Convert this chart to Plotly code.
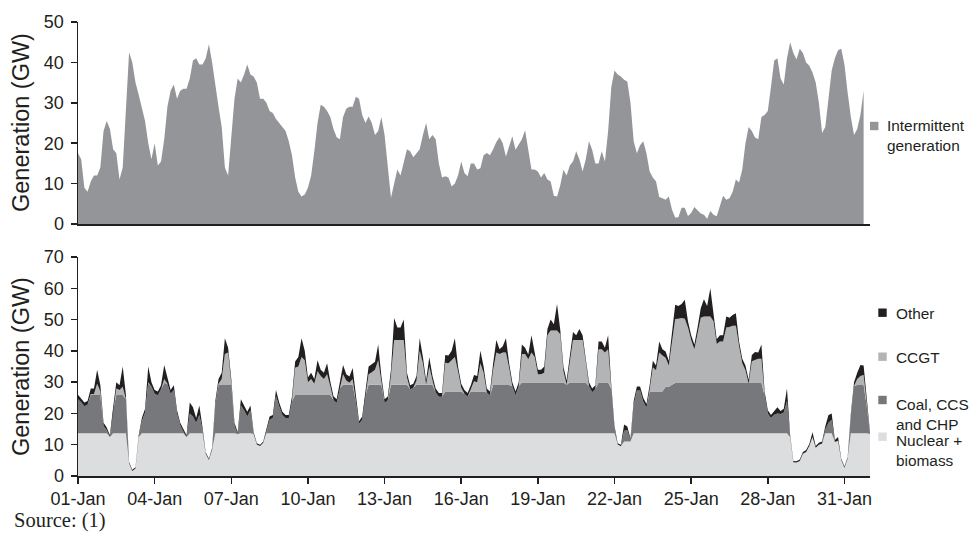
import pandas as pd
import plotly.graph_objects as go

# ---------------- data (3-hourly, January) ----------------
intermittent = [
    17.5, 16, 9, 8, 10.5, 12, 12, 14,
    23, 25.5, 23.5, 18.5, 17.5, 11, 14, 28,
    42.5, 40, 35, 32, 29, 25.5, 20, 16,
    20, 14.5, 15.5, 21, 29, 33, 34.5, 31,
    33, 33.5, 33.5, 36, 40.5, 41, 39.5, 39.5,
    41, 44.5, 40, 34, 29, 24, 14, 12,
    22, 31, 36, 35, 37, 39.5, 37, 36.5,
    35, 31, 31, 30, 28, 27.5, 26, 25,
    24, 23, 20.5, 17, 11.5, 8, 6.8, 7.3,
    9, 12, 18, 25, 29.5, 29, 28, 26.5,
    23.5, 21.5, 21, 26.5, 28.5, 29, 29, 31.5,
    31, 27, 25, 26.6, 25, 22, 23, 26.5,
    22, 14.5, 6.5, 10, 13.5, 12, 15, 18.5,
    18, 16.5, 17.5, 18.5, 22, 25, 21, 22,
    21, 15, 11.5, 11.8, 11.5, 9.3, 10, 12,
    15.5, 12.6, 11.8, 15, 15, 13.5, 13.8, 17,
    17.6, 17, 18.5, 20.3, 21.5, 20, 16.7, 19.5,
    21.7, 18.4, 19.8, 21, 23.2, 18, 13.5, 13.5,
    13, 11.5, 12.6, 11, 10.5, 7, 6.8, 9.5,
    13.4, 12, 14.5, 15.5, 18, 16, 13, 16,
    20.5, 18.4, 15, 15, 18, 15.5, 23, 34,
    38, 37, 36.5, 35.7, 35.3, 30, 20.5, 17.5,
    19.5, 20.5, 17.5, 13, 11.5, 10.5, 6.7, 6.4,
    6, 6.8, 3.5, 1.6, 1.7, 4, 4, 2,
    2.7, 4.2, 3.5, 2.6, 2.3, 1.3, 3.2, 2.3,
    1.9, 4.5, 7, 6, 6.4, 8, 11, 10.3,
    13.5, 20, 24, 23, 21.4, 21, 26.5, 27,
    28, 34, 40.5, 41, 36, 34.5, 41, 45,
    42.3, 40.7, 43.4, 42.3, 40, 39.2, 37.5, 35,
    30, 22.5, 24, 31, 38, 41, 43, 43.4,
    39.5, 32.5, 26.5, 22, 23.5, 27, 33,
]

nuclear = [
    13.7, 13.7, 13.7, 13.7, 13.7, 13.7, 13.7, 13.7,
    13.7, 13.7, 12.5, 13.7, 13.7, 13.7, 13.7, 13.7,
    4.1, 1.6, 2.4, 12.4, 13.7, 13.7, 13.7, 13.7,
    13.7, 13.7, 13.7, 13.7, 13.7, 13.7, 13.7, 13.7,
    13.7, 13.7, 12.5, 13.7, 13.7, 13.7, 13.7, 13.7,
    7.1, 5.1, 8.5, 13.7, 13.7, 13.7, 13.7, 13.7,
    13.7, 13.7, 13.4, 13.7, 13.7, 13.7, 13.7, 13.4,
    10.1, 9.6, 10.6, 13.7, 13.7, 13.7, 13.7, 13.7,
    13.7, 13.7, 13.7, 13.7, 13.7, 13.7, 13.7, 13.7,
    13.7, 13.7, 13.7, 13.7, 13.7, 13.7, 13.7, 13.7,
    13.7, 13.7, 13.7, 13.7, 13.7, 13.7, 13.7, 13.7,
    13.7, 13.7, 13.7, 13.7, 13.7, 13.7, 13.7, 13.7,
    13.7, 13.7, 13.7, 13.7, 13.7, 13.7, 13.7, 13.7,
    13.7, 13.7, 13.7, 13.7, 13.7, 13.7, 13.7, 13.7,
    13.7, 13.7, 13.7, 13.7, 13.7, 13.7, 13.7, 13.7,
    13.7, 13.7, 13.7, 13.7, 13.7, 13.7, 13.7, 13.7,
    13.7, 13.7, 13.7, 13.7, 13.7, 13.7, 13.7, 13.7,
    13.7, 13.7, 13.7, 13.7, 13.7, 13.7, 13.7, 13.7,
    13.7, 13.7, 13.7, 13.7, 13.7, 13.7, 13.7, 13.7,
    13.7, 13.7, 13.7, 13.7, 13.7, 13.7, 13.7, 13.7,
    13.7, 13.7, 13.7, 13.7, 13.7, 13.7, 13.7, 13.7,
    13.7, 10.1, 9.5, 11.0, 11.0, 11.0, 13.7, 13.7,
    13.7, 13.7, 13.7, 13.7, 13.7, 13.7, 13.7, 13.7,
    13.7, 13.7, 13.7, 13.7, 13.7, 13.7, 13.7, 13.7,
    13.7, 13.7, 13.7, 13.7, 13.7, 13.7, 13.7, 13.7,
    13.7, 13.7, 13.7, 13.7, 13.7, 13.7, 13.7, 13.7,
    13.7, 13.7, 13.7, 13.7, 13.7, 13.7, 13.7, 13.7,
    13.7, 13.7, 13.7, 13.7, 13.7, 13.7, 13.7, 12.4,
    4.4, 4.3, 4.8, 7.1, 7.7, 9.6, 12.5, 9.0,
    10.0, 10.4, 13.7, 13.7, 13.7, 10.9, 11.3, 5.1,
    2.6, 5.6, 13.7, 13.7, 13.7, 13.7, 13.7, 13.7,
    13.4,
]

coal_ccs_chp = [
    10.8, 9.9, 8.6, 9.1, 12.2, 12.2, 12.2, 12.2,
    2.3, 1.0, 0, 7.3, 12.2, 12.2, 12.2, 10.8,
    0, 0, 0, 0, 3.8, 6.6, 16.0, 14.8,
    12.6, 12.1, 14.0, 16.0, 15.8, 12.6, 13.8, 6.3,
    2.5, 0.5, 0, 6.3, 5.3, 3.3, 5.8, 1.0,
    0, 0, 0, 9.1, 15.4, 15.4, 15.4, 15.4,
    15.4, 2.3, 0, 8.8, 7.3, 5.3, 7.3, 0,
    0, 0, 0, 0.5, 4.3, 4.8, 11.8, 8.6,
    5.8, 4.8, 4.8, 10.2, 12.2, 12.2, 12.2, 12.2,
    12.2, 12.2, 12.2, 12.2, 12.2, 12.2, 12.2, 12.2,
    10.6, 9.6, 14.3, 15.5, 15.5, 15.5, 15.5, 10.1,
    3.0, 4.3, 12.0, 15.5, 15.5, 15.5, 15.5, 15.5,
    9.6, 10.5, 15.5, 15.5, 15.5, 15.5, 15.5, 15.5,
    14.0, 14.5, 15.5, 15.5, 15.5, 15.5, 15.5, 15.5,
    13.0, 11.6, 11.6, 13.3, 13.3, 13.3, 13.3, 13.3,
    13.3, 12.6, 11.6, 13.3, 13.3, 13.3, 13.3, 13.3,
    13.0, 12.1, 15.4, 15.4, 15.4, 15.4, 15.4, 15.4,
    15.0, 12.1, 15.0, 16.2, 16.2, 16.2, 16.2, 16.2,
    16.2, 16.2, 16.2, 16.2, 16.2, 16.2, 16.2, 16.2,
    16.2, 15.5, 16.2, 16.2, 16.2, 16.2, 16.2, 16.2,
    15.0, 13.1, 14.1, 16.2, 16.2, 16.2, 16.2, 14.1,
    1.5, 0, 0, 3.5, 3.6, 0.4, 9.1, 13.6,
    13.6, 10.1, 8.1, 13.3, 13.3, 13.3, 13.3, 13.3,
    14.8, 14.8, 15.5, 16.0, 16.0, 16.0, 16.0, 16.0,
    16.0, 16.0, 16.0, 16.0, 16.0, 16.0, 16.0, 16.0,
    16.0, 16.0, 16.0, 16.0, 16.0, 16.0, 16.0, 16.0,
    16.0, 16.0, 15.8, 16.0, 16.0, 16.0, 16.0, 12.1,
    6.3, 4.8, 5.9, 6.3, 6.1, 6.6, 10.3, 0,
    0, 0, 0, 0, 0, 0, 0, 0,
    0, 0, 1.2, 3.3, 4.3, 0, 0, 0,
    0, 0, 5.3, 15.1, 15.4, 15.4, 15.4, 8.6,
    0,
]

ccgt = [
    0, 0, 0, 0, 0.3, 0.3, 3.6, 1.1,
    0, 0, 0, 0, 2.1, 1.6, 2.6, 0,
    0, 0, 0, 0, 0, 0, 0.3, 0,
    0, 0, 0, 1.3, 0, 0, 0, 0,
    0, 0, 0, 0, 0, 0, 0, 0,
    0, 0, 0, 0, 0.4, 1.9, 9.9, 10.4,
    0.4, 0, 0, 0, 0, 0, 0, 0,
    0, 0, 0, 0, 0, 0, 0, 0,
    0, 0, 0, 0, 8.7, 9.1, 12.1, 11.1,
    4.1, 5.1, 3.6, 7.6, 6.1, 5.1, 6.6, 2.8,
    0, 0, 0, 3.3, 1.3, 0.6, 1.8, 0,
    0, 0, 0, 3.3, 4.0, 4.8, 7.8, 1.3,
    0, 0, 2.8, 14.3, 14.3, 14.3, 14.3, 2.3,
    0, 0, 1.3, 10.8, 6.8, 0, 5.8, 1.3,
    0, 0, 0, 9.2, 9.0, 10.0, 11.0, 6.5,
    1.2, 0, 0, 0.7, 3.3, 3.0, 9.0, 6.0,
    0, 0, 4.9, 10.4, 9.9, 10.4, 10.4, 5.4,
    0, 0, 0, 9.1, 9.1, 7.4, 9.6, 8.1,
    2.6, 2.6, 3.1, 15.1, 16.6, 16.6, 16.6, 15.4,
    3.6, 0, 6.1, 13.6, 13.6, 13.6, 13.6, 6.6,
    0, 0, 0, 10.6, 10.6, 9.6, 10.6, 0,
    0, 0, 0, 0, 0, 0, 0, 0,
    0, 0, 0, 0.5, 7.8, 6.8, 12.5, 11.5,
    9.3, 6.8, 13.8, 20.5, 20.6, 20.8, 20.6, 17.8,
    13.8, 10.8, 15.8, 20.9, 21.3, 21.3, 21.3, 19.8,
    12.5, 13.3, 13.3, 17.8, 17.9, 18.3, 18.3, 11.8,
    6.3, 4.1, 0, 7.0, 7.4, 7.8, 7.8, 0,
    0, 0, 0, 0, 0, 0, 0, 0,
    0, 0, 0, 0, 0, 0, 0, 0,
    0, 0, 0, 0, 0, 0, 0, 0,
    0, 0, 0, 0, 1.9, 2.9, 3.2, 0,
    0,
]

other = [
    1.5, 1.2, 1.2, 1.2, 1.8, 1.8, 4.5, 2.0,
    1.0, 0.8, 0.5, 1.0, 2.0, 1.5, 6.5, 1.5,
    0.4, 0.4, 0.4, 0.6, 1.0, 1.2, 5.0, 1.5,
    1.2, 1.2, 1.3, 4.5, 1.5, 1.2, 1.5, 1.0,
    0.8, 0.8, 0.5, 3.5, 3.0, 1.5, 3.0, 0.8,
    0.4, 0.4, 0.5, 1.2, 1.5, 2.0, 5.0, 1.5,
    1.5, 1.0, 0.6, 2.0, 1.5, 1.5, 1.5, 0.6,
    0.4, 0.4, 0.4, 0.8, 1.0, 1.0, 2.0, 1.2,
    1.0, 1.0, 1.0, 1.5, 2.0, 3.0, 6.0, 3.0,
    1.5, 2.0, 1.5, 3.5, 2.0, 2.0, 3.5, 1.5,
    1.2, 1.2, 1.5, 3.0, 2.0, 2.0, 3.5, 1.2,
    0.8, 1.0, 1.3, 2.5, 2.5, 2.5, 5.0, 1.5,
    1.2, 1.2, 2.0, 7.0, 4.0, 4.0, 6.5, 1.5,
    1.3, 1.3, 1.5, 4.0, 2.0, 1.3, 3.0, 1.5,
    1.3, 1.2, 1.2, 2.5, 2.5, 3.0, 6.0, 1.5,
    1.3, 1.2, 1.2, 1.3, 2.0, 2.0, 4.0, 2.0,
    1.3, 1.2, 2.0, 4.0, 1.5, 2.0, 4.5, 1.5,
    1.3, 1.2, 1.3, 3.0, 2.0, 1.5, 5.5, 1.5,
    1.5, 1.5, 2.0, 2.0, 3.5, 2.0, 8.5, 1.5,
    1.5, 1.3, 2.0, 2.5, 1.5, 3.5, 1.5, 1.5,
    1.3, 1.2, 1.2, 2.5, 2.5, 1.5, 4.5, 1.2,
    0.8, 0.4, 0.5, 2.0, 1.2, 0.6, 1.2, 1.3,
    1.3, 1.2, 1.2, 1.5, 2.0, 1.5, 3.5, 2.0,
    2.0, 1.5, 2.5, 4.5, 4.0, 4.5, 6.0, 2.0,
    1.5, 1.5, 2.0, 3.0, 5.5, 3.3, 9.0, 1.5,
    1.5, 2.0, 2.0, 3.5, 3.0, 3.5, 4.0, 1.5,
    1.5, 1.5, 1.3, 2.0, 2.5, 2.0, 4.5, 1.2,
    1.0, 1.0, 1.0, 2.0, 1.0, 1.2, 4.0, 0.6,
    0.4, 0.4, 0.5, 0.6, 0.6, 0.6, 1.5, 0.6,
    0.6, 0.6, 1.0, 2.5, 2.0, 0.6, 1.2, 0.4,
    0.4, 0.4, 1.0, 1.2, 2.0, 3.5, 3.0, 1.2,
    0.6,
]

series_names = ["Nuclear +<br>biomass", "Coal, CCS<br>and CHP", "CCGT", "Other"]
top_name = "Intermittent<br>generation"
axis_title = "Generation (GW)"
source_text = "Source: (1)"

times = pd.date_range("2030-01-01 00:00", periods=len(nuclear), freq="3h")
x_start = pd.Timestamp("2030-01-01 00:00")
x_end = pd.Timestamp("2030-02-01 00:00")

# ---------------- styling ----------------
C_INT = "#949599"
C_NUC = "#dcdddf"
C_COAL = "#77787b"
C_CCGT = "#b3b4b6"
C_OTH = "#231f20"
INK = "#231f20"
FONT = "Liberation Sans, Arial, sans-serif"

# figure geometry: fills the 970x534 window (page margin removed below)
W, H = 970, 534
ML, MT, MR, MB = 78, 22, 100, 58
PW, PH = W - ML - MR, H - MT - MB


def px(sx):  # window pixel x -> paper x
    return (sx - ML) / PW


def py(sy):  # window pixel y -> paper y
    return (H - MB - sy) / PH


fig = go.Figure()

# top panel: intermittent generation
fig.add_trace(go.Scatter(
    x=times[:len(intermittent)], y=intermittent, mode="lines",
    line=dict(width=0, color=C_INT), fill="tozeroy", fillcolor=C_INT,
    xaxis="x2", yaxis="y2", showlegend=False, hoverinfo="skip",
    name=top_name.replace("<br>", " ")))

# bottom panel: stacked dispatch
for name, vals, col in [(series_names[0], nuclear, C_NUC),
                        (series_names[1], coal_ccs_chp, C_COAL),
                        (series_names[2], ccgt, C_CCGT),
                        (series_names[3], other, C_OTH)]:
    fig.add_trace(go.Scatter(
        x=times, y=vals, mode="lines", stackgroup="dispatch",
        line=dict(width=0, color=col), fillcolor=col,
        xaxis="x", yaxis="y", showlegend=False, hoverinfo="skip",
        name=name.replace("<br>", " ")))

# legend drawn as swatches + labels (positions in window pixels)
# (label, colour, swatch left x, swatch centre y, text left x, text centre y)
legend_items = [
    (top_name, C_INT, 870.0, 126.0, 885.5, 136.0),
    (series_names[3], C_OTH, 878.3, 312.7, 893.8, 313.0),
    (series_names[2], C_CCGT, 878.3, 356.7, 893.8, 357.0),
    (series_names[1], C_COAL, 878.3, 400.0, 893.8, 414.0),
    (series_names[0], C_NUC, 878.3, 436.7, 893.8, 450.0),
]
shapes = []
annotations = []
SW = 8.4
for label, col, sq_x, sq_y, tx, ty in legend_items:
    shapes.append(dict(type="rect", xref="paper", yref="paper",
                       x0=px(sq_x), x1=px(sq_x + SW),
                       y0=py(sq_y + SW / 2), y1=py(sq_y - SW / 2),
                       fillcolor=col, line=dict(width=0)))
    annotations.append(dict(text=label, xref="paper", yref="paper",
                            x=px(tx), y=py(ty), xanchor="left",
                            yanchor="middle", align="left", showarrow=False,
                            font=dict(family=FONT, size=15.4, color=INK)))

# y-axis titles (rotated), centred on each panel
for cy in (123.0, 367.0):
    annotations.append(dict(text=axis_title, xref="paper", yref="paper",
                            x=px(21), y=py(cy), xanchor="center",
                            yanchor="middle", textangle=-90, showarrow=False,
                            font=dict(family=FONT, size=23.5, color=INK)))

annotations.append(dict(text=source_text, xref="paper", yref="paper",
                        x=px(12), y=py(534), xanchor="left", yanchor="bottom",
                        showarrow=False,
                        font=dict(family="Liberation Serif, Times New Roman, serif",
                                  size=20.5, color=INK)))

axis_common = dict(showline=True, linecolor=INK, linewidth=1.5,
                   showgrid=False, zeroline=False, mirror=False)
ytick = dict(ticks="outside", ticklen=6, tickwidth=1.5, tickcolor=INK,
             tickfont=dict(size=18), ticklabelstandoff=3)

fig.update_layout(
    width=W, height=H,
    margin=dict(l=ML, r=MR, t=MT, b=MB, autoexpand=False),
    paper_bgcolor="white", plot_bgcolor="white",
    font=dict(family=FONT, color=INK, size=17),
    showlegend=False,
    xaxis=dict(**axis_common, type="date", range=[x_start, x_end], anchor="y",
               tick0=x_start, dtick=3 * 86400000, tickformat="%d-%b",
               ticks="outside", ticklen=6, tickwidth=1.5, tickcolor=INK,
               tickfont=dict(size=18)),
    xaxis2=dict(**axis_common, type="date", range=[x_start, x_end], anchor="y2",
                matches="x", showticklabels=False, ticks=""),
    yaxis=dict(**axis_common, **ytick, domain=[0, (476 - 257) / 454],
               range=[0, 70], dtick=10),
    yaxis2=dict(**axis_common, **ytick, domain=[(476 - 224) / 454, 1],
                range=[0, 50], dtick=10),
    shapes=shapes,
    annotations=annotations,
)

# the figure is exactly the window size, so drop the default page margin
fig.write_html("out.html",
               config={"displayModeBar": False, "staticPlot": True},
               post_script="document.body.style.margin='0';"
                           "document.body.style.overflow='hidden';")
